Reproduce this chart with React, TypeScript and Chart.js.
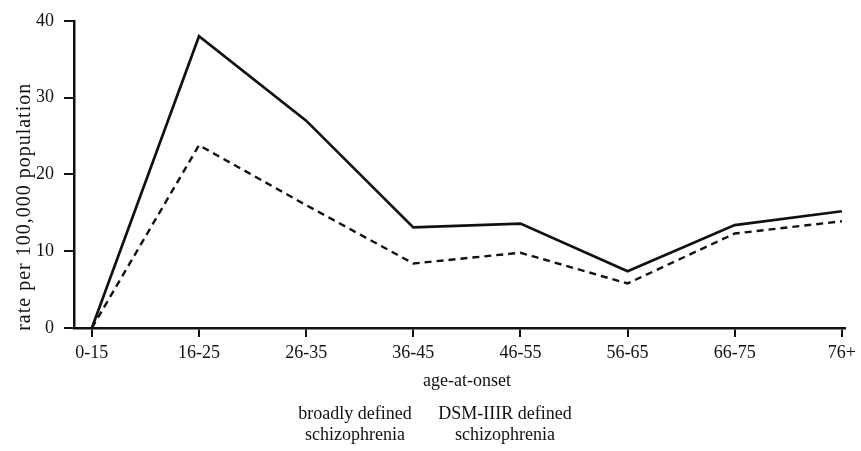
import React, { useEffect, useRef } from "react";
import { Chart, registerables } from "chart.js";

Chart.register(...registerables);

const categories = ["0-15", "16-25", "26-35", "36-45", "46-55", "56-65", "66-75", "76+"];
const broadlyDefined = [0, 38, 27, 13.1, 13.6, 7.4, 13.4, 15.2];
const dsmDefined = [0, 23.8, 16, 8.4, 9.8, 5.8, 12.3, 13.9];
const yTicks = [0, 10, 20, 30, 40];
const yTitle = "rate per 100,000 population";
const xTitle = "age-at-onset";
const legendLabels = [
  ["broadly defined", "schizophrenia"],
  ["DSM-IIIR defined", "schizophrenia"],
];

const FONT = "'Liberation Serif', 'Times New Roman', serif";
const INK = "#111";

const textPlugin = {
  id: "customText",
  afterDraw(chart: any) {
    const { ctx, chartArea } = chart;
    ctx.save();
    ctx.fillStyle = INK;
    ctx.font = `18px ${FONT}`;
    ctx.textAlign = "center";
    ctx.textBaseline = "middle";
    // y title
    ctx.save();
    ctx.translate(chartArea.left - 49, chartArea.top + 186);
    ctx.rotate(-Math.PI / 2);
    ctx.font = `20px ${FONT}`;
    try { (ctx as any).letterSpacing = "1px"; } catch (e) {}
    ctx.fillText(yTitle, 0, 0);
    ctx.restore();
    // x title
    ctx.fillText(xTitle, chartArea.left + 393, chartArea.bottom + 53);
    // legend labels
    const lx = [chartArea.left + 281, chartArea.left + 431];
    legendLabels.forEach((lines, i) => {
      lines.forEach((t, j) => {
        ctx.fillText(t, lx[i], chartArea.bottom + 86 + j * 21);
      });
    });
    ctx.restore();
  },
};

export default function App() {
  const ref = useRef<HTMLCanvasElement | null>(null);
  useEffect(() => {
    document.body.style.margin = "0";
    const canvas = ref.current!;
    const chart = new Chart(canvas, {
      type: "line",
      data: {
        datasets: [
          {
            label: legendLabels[0].join(" "),
            data: broadlyDefined.map((v, i) => ({ x: i, y: v })),
            borderColor: INK,
            borderWidth: 2.7,
            pointRadius: 0,
            tension: 0,
            fill: false,
          },
          {
            label: legendLabels[1].join(" "),
            data: dsmDefined.map((v, i) => ({ x: i, y: v })),
            borderColor: INK,
            borderWidth: 2.4,
            borderDash: [7, 5],
            pointRadius: 0,
            tension: 0,
            fill: false,
          },
        ],
      },
      options: {
        animation: false,
        responsive: false,
        maintainAspectRatio: false,
        layout: { padding: { top: 20, right: 10, left: 0, bottom: 0 } },
        plugins: { legend: { display: false }, tooltip: { enabled: false } },
        scales: {
          x: {
            type: "linear",
            min: -0.1667,
            max: 7.028,
            afterFit: (s: any) => { s.height = 123; },
            afterBuildTicks: (s: any) => {
              s.ticks = categories.map((_, i) => ({ value: i }));
            },
            ticks: {
              color: INK,
              font: { family: FONT, size: 18 },
              padding: 5,
              maxRotation: 0,
              autoSkip: false,
              callback: (v: any) => categories[Math.round(Number(v))] ?? "",
            },
            grid: { drawOnChartArea: false, drawTicks: true, tickLength: 9, color: INK, lineWidth: 2 },
            border: { display: true, color: INK, width: 2.5 },
          },
          y: {
            type: "linear",
            min: 0,
            max: 40,
            afterFit: (s: any) => { s.width = 74; },
            afterBuildTicks: (s: any) => {
              s.ticks = yTicks.map((v) => ({ value: v }));
            },
            ticks: {
              color: INK,
              font: { family: FONT, size: 18 },
              padding: 10,
            },
            grid: { drawOnChartArea: false, drawTicks: true, tickLength: 10, color: INK, lineWidth: 2 },
            border: { display: true, color: INK, width: 2.5 },
          },
        },
      },
      plugins: [textPlugin],
    });
    return () => chart.destroy();
  }, []);
  return <canvas ref={ref} width={861} height={451} style={{ display: "block", width: 861, height: 451 }} />;
}
